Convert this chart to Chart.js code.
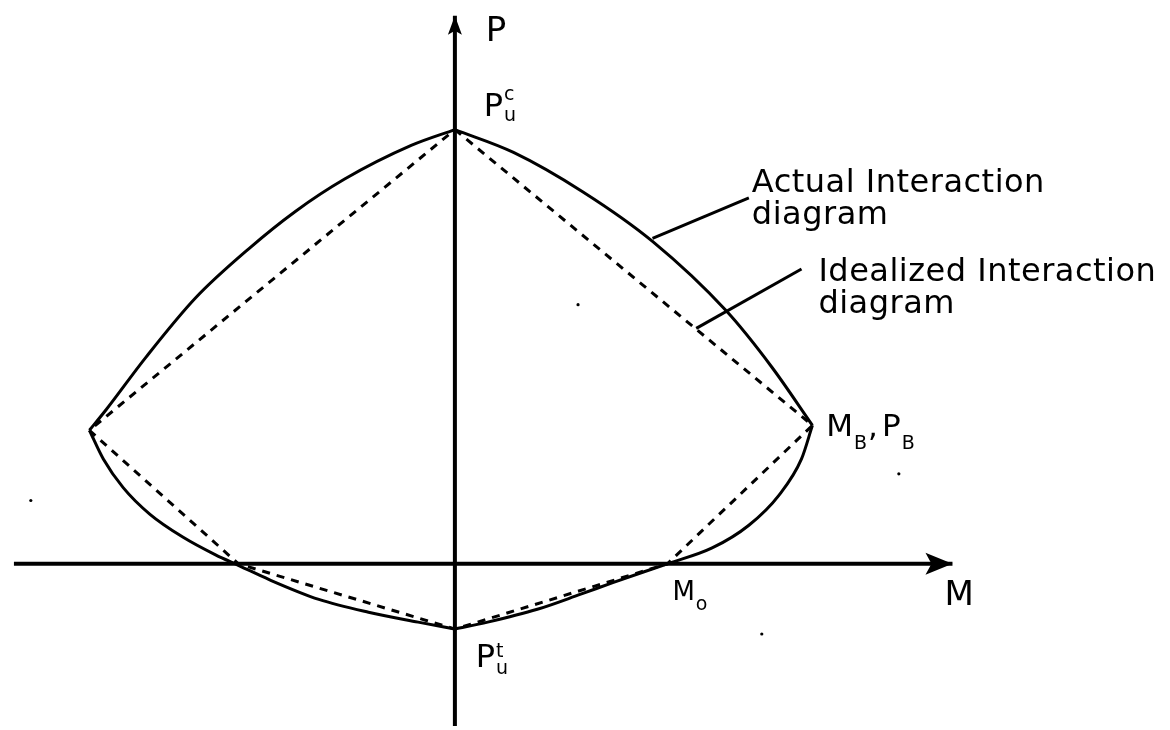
<!DOCTYPE html>
<html>
<head>
<meta charset="utf-8">
<title>P-M interaction diagram</title>
<script src="https://cdn.jsdelivr.net/npm/chart.js@4/dist/chart.umd.min.js"></script>
<style>
  html, body { margin: 0; padding: 0; background: #fff; }
  #wrap { width: 1170px; height: 730px; position: relative; }
</style>
</head>
<body>
<div id="wrap"><canvas id="pm"></canvas></div>
<script>
// --- DATA (M, P) ---
// actual interaction curve, split into branches so the corners stay sharp
const actualUpperRight = [[0, 4.39], [0.59, 4.16], [1.29, 3.76], [1.99, 3.26], [2.73, 2.56], [3.19, 1.99], [3.60, 1.40]];
const actualLowerRight = [[3.60, 1.40], [3.49, 1.06], [3.26, 0.69], [2.96, 0.39], [2.59, 0.16], [2.14, 0], [1.59, -0.19], [1.26, -0.31], [0.83, -0.46], [0.33, -0.59], [0, -0.66]];
const actualLowerLeft = [[0, -0.66], [-0.37, -0.59], [-0.87, -0.49], [-1.37, -0.36], [-1.87, -0.16], [-2.17, -0.02], [-2.41, 0.09], [-2.74, 0.27], [-3.07, 0.50], [-3.34, 0.77], [-3.54, 1.06], [-3.68, 1.35]];
const actualUpperLeft = [[-3.68, 1.35], [-3.51, 1.56], [-3.11, 2.09], [-2.61, 2.69], [-2.07, 3.19], [-1.61, 3.56], [-1.11, 3.89], [-0.44, 4.23], [0, 4.39]];

// idealized (straight line) diagram through Pu_c, MB/PB, Mo, Pu_t
const idealM = [0, 3.60, 2.14, 0, -2.18, -3.68, 0];
const idealP = [4.39, 1.40, 0, -0.66, 0, 1.35, 4.39];

// axes: start and arrow tip
const pAxis = [[0, -1.64], [0, 5.54]];
const mAxis = [[-4.44, 0], [5.01, 0]];

// leader lines for the two notes
const actualLeader = [[1.99, 3.29], [2.96, 3.70]];
const idealLeader = [[2.43, 2.38], [3.49, 2.98]];

// small specks on the sheet
const specks = [[1.24, 2.62], [4.47, 0.91], [3.09, -0.71], [-4.27, 0.64]];

// --- TEXT ---
const noteLines = [
  { text: 'Actual Interaction', m: 2.99, p: 3.76 },
  { text: 'diagram', m: 2.99, p: 3.44 },
  { text: 'Idealized Interaction', m: 3.66, p: 2.86 },
  { text: 'diagram', m: 3.66, p: 2.54 }
];
const axisTitles = [
  { text: 'P', m: 0.31, p: 5.29 },
  { text: 'M', m: 4.93, p: -0.42 }
];
// parts: [text, kind]  kind = main | sub | sup
const pointLabels = [
  { m: 0.29, p: 4.53, size: 32, subDy: 5, supDy: -16, parts: [['P', 'main'], ['u', 'sub'], ['c', 'sup']] },
  { m: 0.21, p: -1.04, size: 32, subDy: 7, supDy: -10, parts: [['P', 'main'], ['u', 'sub'], ['t', 'sup']] },
  { m: 2.19, p: -0.37, size: 26, subDy: 10, supDy: 0, parts: [['M', 'main'], ['o', 'sub']] },
  { m: 3.74, p: 1.29, size: 31, subDy: 13, supDy: 0, parts: [['M', 'main'], ['B', 'sub'], [',', 'main'], ['P', 'main'], ['B', 'sub']] }
];

const FONT = '"DejaVu Sans", sans-serif';
const toXY = arr => arr.map(([x, y]) => ({ x, y }));

const solid = (pts, width) => ({
  type: 'line', data: toXY(pts), borderColor: '#000', borderWidth: width,
  pointRadius: 0, fill: false, tension: 0, clip: false
});
// each branch is monotone in M, so a monotone spline keeps it from overshooting
const curve = pts => Object.assign(solid(pts, 3), { cubicInterpolationMode: 'monotone' });

// --- arrowheads and lettering ---
const sketchPlugin = {
  id: 'sketch',
  afterDatasetsDraw(chart) {
    const { ctx, scales: { x, y } } = chart;
    ctx.save();
    ctx.fillStyle = '#000';

    // arrow on P axis (points up)
    const pt = pAxis[1];
    const px = x.getPixelForValue(pt[0]), py = y.getPixelForValue(pt[1]);
    ctx.beginPath();
    ctx.moveTo(px, py);
    ctx.lineTo(px - 7, py + 19);
    ctx.lineTo(px, py + 15);
    ctx.lineTo(px + 7, py + 19);
    ctx.closePath();
    ctx.fill();

    // arrow on M axis (points right)
    const mt = mAxis[1];
    const mx = x.getPixelForValue(mt[0]), my = y.getPixelForValue(mt[1]);
    ctx.beginPath();
    ctx.moveTo(mx, my);
    ctx.lineTo(mx - 27, my - 11);
    ctx.lineTo(mx - 21, my);
    ctx.lineTo(mx - 27, my + 11);
    ctx.closePath();
    ctx.fill();

    ctx.textBaseline = 'alphabetic';
    ctx.textAlign = 'left';

    ctx.font = '34px ' + FONT;
    axisTitles.forEach(t => {
      ctx.fillText(t.text, x.getPixelForValue(t.m), y.getPixelForValue(t.p));
    });

    ctx.font = '32px ' + FONT;
    if ('letterSpacing' in ctx) ctx.letterSpacing = '0.5px';
    noteLines.forEach(t => {
      ctx.fillText(t.text, x.getPixelForValue(t.m), y.getPixelForValue(t.p));
    });
    if ('letterSpacing' in ctx) ctx.letterSpacing = '0px';

    pointLabels.forEach(l => {
      let cx = x.getPixelForValue(l.m);
      const by = y.getPixelForValue(l.p);
      let scriptX = cx, scriptW = 0;
      l.parts.forEach(([text, kind]) => {
        if (kind === 'main') {
          cx = Math.max(cx, scriptX + scriptW);
          scriptW = 0;
          ctx.font = l.size + 'px ' + FONT;
          ctx.fillText(text, cx, by);
          cx += ctx.measureText(text).width + (text === ',' ? 4 : 0);
          scriptX = cx;
        } else {
          ctx.font = '19px ' + FONT;
          ctx.fillText(text, scriptX + 1, by + (kind === 'sub' ? l.subDy : l.supDy));
          scriptW = Math.max(scriptW, ctx.measureText(text).width + 2);
        }
      });
    });
    ctx.restore();
  }
};

new Chart(document.getElementById('pm'), {
  type: 'scatter',
  data: {
    datasets: [
      solid(pAxis, 4),
      solid(mAxis, 4),
      Object.assign(solid(idealM.map((m, i) => [m, idealP[i]]), 3), { borderDash: [8, 7] }),
      curve(actualUpperRight),
      curve(actualLowerRight),
      curve(actualLowerLeft),
      curve(actualUpperLeft),
      solid(actualLeader, 3),
      solid(idealLeader, 3),
      {
        type: 'scatter', data: toXY(specks), pointRadius: 1.6,
        backgroundColor: '#000', borderWidth: 0, clip: false
      }
    ]
  },
  options: {
    responsive: true,
    maintainAspectRatio: false,
    animation: false,
    events: [],
    layout: { padding: 0 },
    plugins: { legend: { display: false }, tooltip: { enabled: false } },
    scales: {
      x: { type: 'linear', min: -4.54, max: 7.16, display: false },
      y: { type: 'linear', min: -1.64, max: 5.66, display: false }
    }
  },
  plugins: [sketchPlugin]
});
</script>
</body>
</html>
